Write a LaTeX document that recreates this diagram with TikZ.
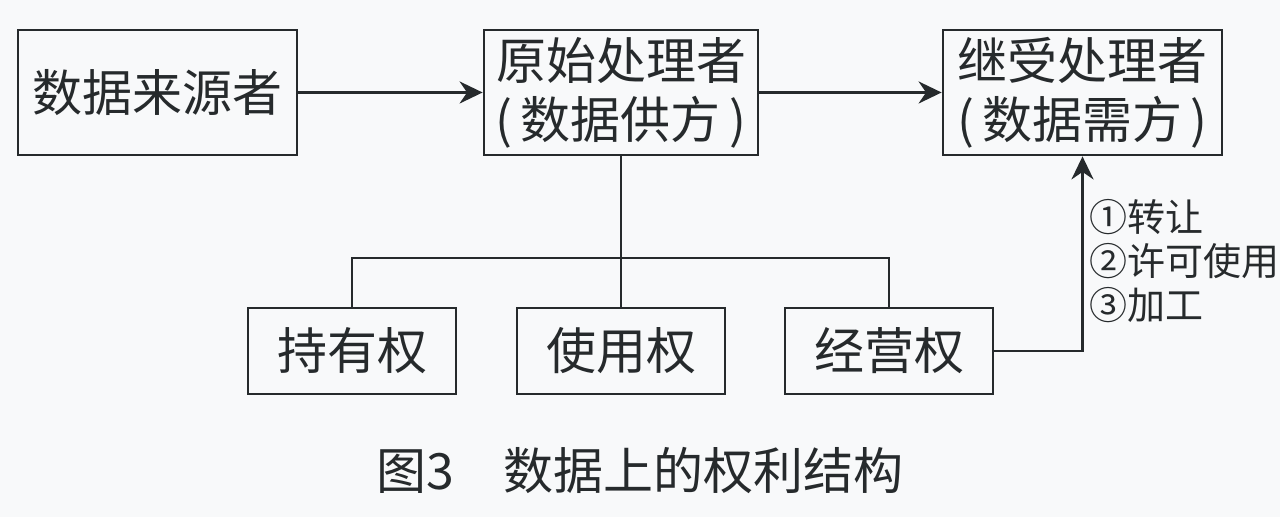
\documentclass[tikz,border=0pt]{standalone}
\usepackage{fontspec}
\setmainfont{Noto Sans CJK SC}
\usepackage{tikz}
\usetikzlibrary{arrows.meta, calc, positioning}
\definecolor{mainBlack}{RGB}{38,42,44}
\definecolor{bgGray}{RGB}{248,249,250}

\begin{document}
\begin{tikzpicture}[x=0.5pt, y=0.5pt, >={Stealth[length=11.5pt, width=11pt]},
    box/.style={draw=mainBlack, line width=1.4pt, text=mainBlack, align=center,
        inner sep=0pt, font=\fontsize{25}{29.5}\selectfont},
    topBox/.style={box, minimum height=62.5pt},
    rightBox/.style={box, minimum width=104pt, minimum height=43pt},
    link/.style={draw=mainBlack, line width=1.4pt}]
    % Background
    \fill[bgGray] (0,0) rectangle (1280,517);
    \useasboundingbox (0,0) rectangle (1280,517);

    % Processors
    \node[topBox, minimum width=139.5pt] (source) at (157.5,424.5) {数据来源者};
    \node[topBox, minimum width=137pt] (original) at (621,424.5) {原始处理者\\(\,数据供方\,)};
    \node[topBox, minimum width=139.5pt] (successor) at (1082.5,424.5) {继受处理者\\(\,数据需方\,)};

    % Rights
    \node[rightBox] (hold) at (352,166) {持有权};
    \node[rightBox] (use) at (621,166) {使用权};
    \node[rightBox] (operate) at (889,166) {经营权};

    \coordinate (busL) at (352,259);
    \coordinate (busR) at (889,259);
    \coordinate (bend) at (1082.5,166);

    \draw[link, ->] (source) -- (original);
    \draw[link, ->] (original) -- (successor);
    \draw[link] (original.south) -- (use.north);
    \draw[link] (hold.north) -- (busL) -- (busR) -- (operate.north);
    \draw[link, ->] (operate.east) -- (bend) -- (successor.south);

    \node[anchor=west, align=left, inner sep=0pt, text=mainBlack,
        font=\fontsize{19}{22}\selectfont] (ways) at (1089,256) {①转让\\②许可使用\\③加工};

    \node[text=mainBlack, font=\fontsize{25}{25}\selectfont] (caption) at (640,46) {图3\quad 数据上的权利结构};
\end{tikzpicture}
\end{document}
